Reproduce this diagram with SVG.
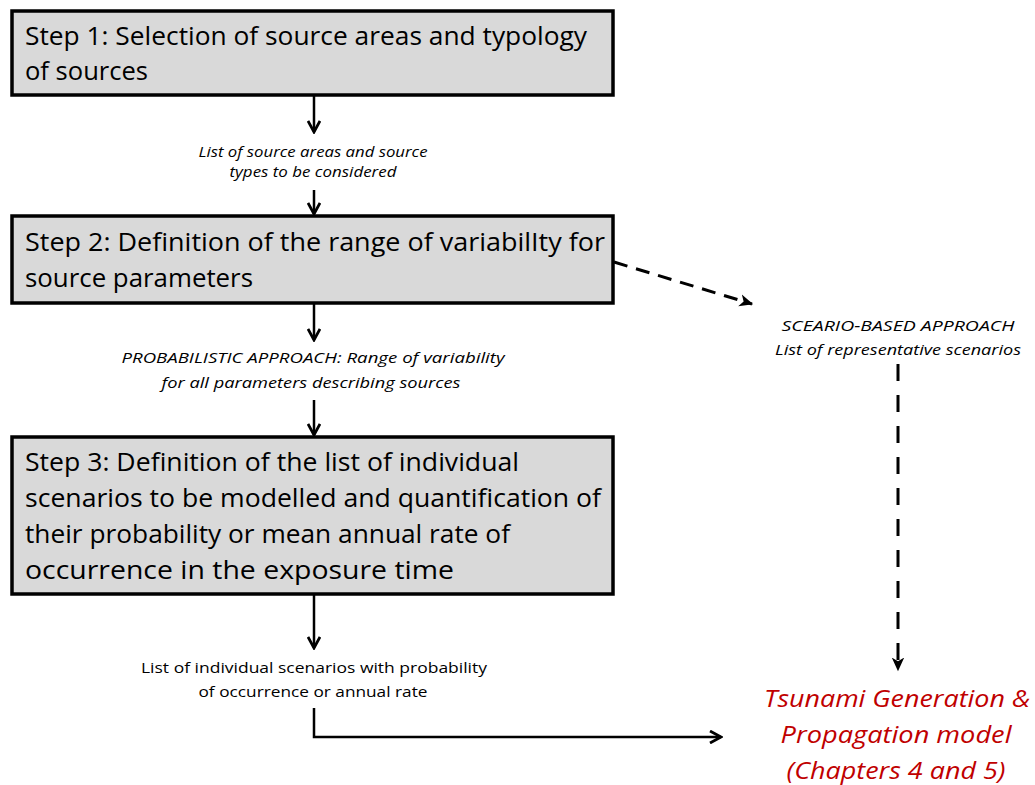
<svg xmlns="http://www.w3.org/2000/svg" width="1035" height="785" viewBox="0 0 1035 785">
<style>
.box{fill:#d9d9d9;stroke:#000;stroke-width:3.5}
.bt{font-family:"Open Sans","Liberation Sans",sans-serif;font-size:26px;fill:#000}
.it{font-family:"Open Sans","Liberation Sans",sans-serif;font-size:15px;font-style:italic;fill:#000}
.nt{font-family:"Open Sans","Liberation Sans",sans-serif;font-size:15px;fill:#000}
.red{font-family:"Open Sans","Liberation Sans",sans-serif;font-size:24px;font-style:italic;fill:#c00000}
.c{fill:none;stroke:#000;stroke-width:2.5}
.d{fill:none;stroke:#000;stroke-width:3;stroke-dasharray:14,9}
.dv{fill:none;stroke:#000;stroke-width:3;stroke-dasharray:17,14}
</style>
<defs>
<marker id="ah" viewBox="0 0 14 14" refX="12" refY="7" markerWidth="14" markerHeight="14" markerUnits="userSpaceOnUse" orient="auto">
<path d="M1,1 L12,7 L1,13" fill="none" stroke="#000" stroke-width="2.8"/>
</marker>
<marker id="ahf" viewBox="0 0 12 12" refX="10" refY="6" markerWidth="15" markerHeight="15" markerUnits="userSpaceOnUse" orient="auto">
<path d="M0,1 L11,6 L0,11 L3,6 Z" fill="#000"/>
</marker>
</defs>
<g id="connectors">
<line class="c" x1="314" y1="96" x2="314" y2="132" marker-end="url(#ah)"/>
<line class="c" x1="314" y1="190" x2="314" y2="214" marker-end="url(#ah)"/>
<line class="c" x1="314" y1="304" x2="314" y2="340" marker-end="url(#ah)"/>
<line class="c" x1="314" y1="400" x2="314" y2="435" marker-end="url(#ah)"/>
<line class="c" x1="314" y1="595" x2="314" y2="648" marker-end="url(#ah)"/>
<polyline class="c" points="314,708 314,737 721,737" marker-end="url(#ah)"/>
<line class="d" x1="614" y1="262" x2="752" y2="304" marker-end="url(#ahf)"/>
<line class="dv" x1="898" y1="364" x2="898" y2="670" marker-end="url(#ahf)"/>
</g>
<g id="step1">
<rect class="box" x="12" y="11" width="601" height="84"/>
<text class="bt" x="25" y="45" textLength="562" lengthAdjust="spacingAndGlyphs">Step 1: Selection of source areas and typology</text>
<text class="bt" x="25" y="80" textLength="123" lengthAdjust="spacingAndGlyphs">of sources</text>
</g>
<g id="label1">
<text class="it" x="313" y="157" text-anchor="middle" textLength="229" lengthAdjust="spacingAndGlyphs">List of source areas and source</text>
<text class="it" x="313" y="177" text-anchor="middle" textLength="167" lengthAdjust="spacingAndGlyphs">types to be considered</text>
</g>
<g id="step2">
<rect class="box" x="12" y="216" width="601" height="87"/>
<text class="bt" x="25" y="251" textLength="580" lengthAdjust="spacingAndGlyphs">Step 2: Definition of the range of variabilIty for</text>
<text class="bt" x="25" y="287" textLength="228" lengthAdjust="spacingAndGlyphs">source parameters</text>
</g>
<g id="label2">
<text class="it" x="313" y="363" text-anchor="middle" textLength="383" lengthAdjust="spacingAndGlyphs">PROBABILISTIC APPROACH:  Range of variability</text>
<text class="it" x="311" y="388" text-anchor="middle" textLength="299" lengthAdjust="spacingAndGlyphs">for all parameters describing sources</text>
</g>
<g id="scenario">
<text class="it" x="898" y="331" text-anchor="middle" textLength="233" lengthAdjust="spacingAndGlyphs">SCEARIO-BASED APPROACH</text>
<text class="it" x="898" y="355" text-anchor="middle" textLength="246" lengthAdjust="spacingAndGlyphs">List of representative scenarios</text>
</g>
<g id="step3">
<rect class="box" x="12" y="437" width="601" height="157"/>
<text class="bt" x="25" y="471" textLength="494" lengthAdjust="spacingAndGlyphs">Step 3: Definition of the list of individual</text>
<text class="bt" x="25" y="507" textLength="576" lengthAdjust="spacingAndGlyphs">scenarios to be modelled and quantification of</text>
<text class="bt" x="25" y="543" textLength="485" lengthAdjust="spacingAndGlyphs">their probability or mean annual rate of</text>
<text class="bt" x="25" y="579" textLength="429" lengthAdjust="spacingAndGlyphs">occurrence in the exposure time</text>
</g>
<g id="label3">
<text class="nt" x="314" y="673" text-anchor="middle" textLength="346" lengthAdjust="spacingAndGlyphs">List of individual scenarios with probability</text>
<text class="nt" x="313" y="697" text-anchor="middle" textLength="229" lengthAdjust="spacingAndGlyphs">of occurrence or annual rate</text>
</g>
<g id="tsunami">
<text class="red" x="897" y="707" text-anchor="middle" textLength="266" lengthAdjust="spacingAndGlyphs">Tsunami Generation &amp;</text>
<text class="red" x="896" y="743" text-anchor="middle" textLength="231" lengthAdjust="spacingAndGlyphs">Propagation model</text>
<text class="red" x="896" y="779" text-anchor="middle" textLength="219" lengthAdjust="spacingAndGlyphs">(Chapters 4 and 5)</text>
</g>
</svg>
